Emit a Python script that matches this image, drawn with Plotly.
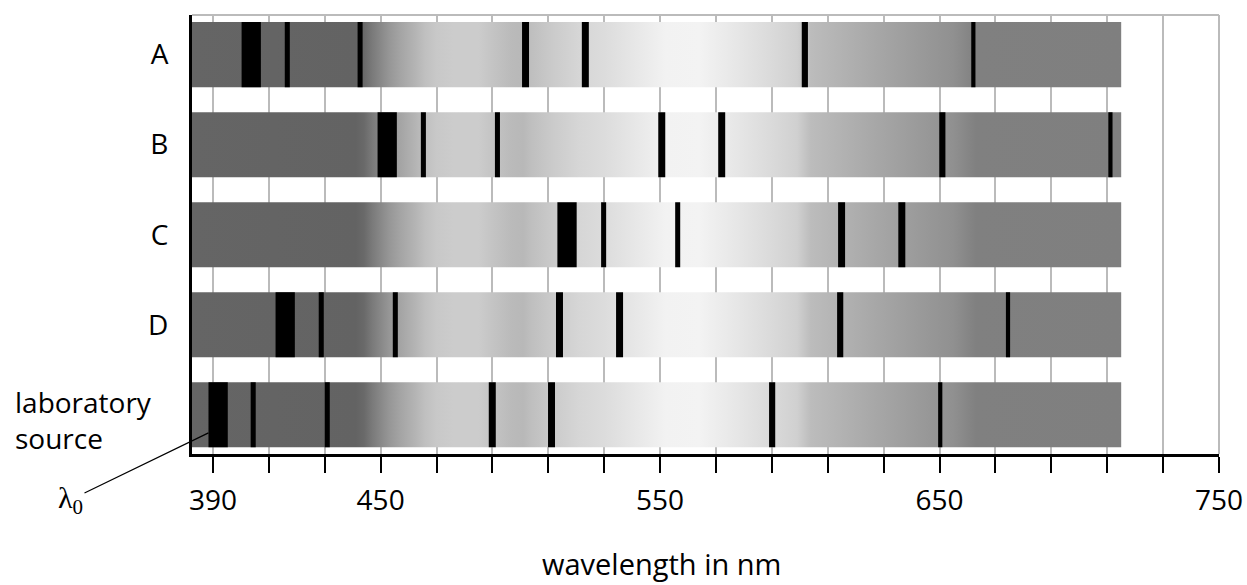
import plotly.graph_objects as go

# ---------------- data ----------------
row_names = ["laboratory source", "D", "C", "B", "A"]
row_pos = [0, 1, 2, 3, 4]

spectrum_start = 382.5
spectrum_end = 715.0

# absorption line centres (nm)
lines_lab = [391.85, 404.4, 430.9, 489.95, 511.15, 590.1, 650.25]
lines_D = [415.85, 428.75, 455.25, 514.0, 535.5, 614.45, 674.5]
lines_C = [516.7, 529.8, 556.3, 614.95, 636.5]
lines_B = [452.35, 465.3, 491.8, 550.6, 572.05, 651.0, 711.15]
lines_A = [403.7, 416.6, 442.65, 501.85, 523.25, 601.8, 662.1]
line_widths = [6.9, 1.8, 1.8, 2.5, 2.5, 2.2, 1.5]

# grey level of the spectrum band (nm -> grey 0..255)
grad_nm = [382.5, 441, 444, 447, 450, 453, 457, 462, 466, 470, 476, 485, 490, 497,
           501, 504, 512, 521, 530, 540, 552, 564, 578, 590, 599, 604, 614, 626,
           644, 655, 663, 715]
grad_gray = [101, 99, 105, 122, 136, 150, 164, 179, 192, 200, 204, 204, 196, 186,
             184, 191, 203, 214, 220, 230, 242, 243, 230, 218, 208, 188, 179, 168,
             153, 144, 128, 127]

labelled_ticks = [390, 450, 550, 650, 750]
minor_ticks = [v for v in range(390, 751, 20) if v not in labelled_ticks]

# ---------------- figure ----------------
half_h = 0.361
W, H = 1247, 585
L, R, T, B = 192, 28, 15, 131
pw, ph = W - L - R, H - T - B

def px_x(px):
    return (px - L) / pw

def px_y(py):
    return (H - B - py) / ph

span = spectrum_end - spectrum_start
colorscale = [[(n - spectrum_start) / span, f"rgb({g},{g},{g})"] for n, g in zip(grad_nm, grad_gray)]

fig = go.Figure()

all_lines = [lines_lab, lines_D, lines_C, lines_B, lines_A]
for pos, centres in zip(row_pos, all_lines):
    # spectrum band
    fig.add_trace(go.Scatter(
        x=[spectrum_start, spectrum_end, spectrum_end, spectrum_start, spectrum_start],
        y=[pos - half_h, pos - half_h, pos + half_h, pos + half_h, pos - half_h],
        mode="lines", line=dict(width=0), fill="toself",
        fillgradient=dict(type="horizontal", colorscale=colorscale),
        hoverinfo="skip", showlegend=False))
    # absorption lines
    xs, ys = [], []
    for c, w in zip(centres, line_widths):
        a, b = c - w / 2, c + w / 2
        xs += [a, b, b, a, a, None]
        ys += [pos - half_h, pos - half_h, pos + half_h, pos + half_h, pos - half_h, None]
    fig.add_trace(go.Scatter(x=xs, y=ys, mode="lines", line=dict(width=0),
                             fill="toself", fillcolor="black",
                             hoverinfo="skip", showlegend=False))

font = "Open Sans"
fs = 28

fig.update_layout(
    width=W, height=H,
    margin=dict(l=L, r=R, t=T, b=B, autoexpand=False),
    paper_bgcolor="white", plot_bgcolor="white",
    font=dict(family=font, size=fs, color="black"),
    showlegend=False,
    xaxis=dict(range=[spectrum_start, 750], tickmode="array", tickvals=labelled_ticks,
               ticktext=[str(v) for v in labelled_ticks],
               ticks="outside", ticklen=16, tickwidth=2, tickcolor="black",
               showgrid=True, gridcolor="#bbbbbb", gridwidth=2,
               minor=dict(tickmode="array", tickvals=minor_ticks, ticks="outside",
                          ticklen=16, tickwidth=2, tickcolor="black",
                          showgrid=True, gridcolor="#bbbbbb", gridwidth=2),
               showline=True, linecolor="black", linewidth=3,
               zeroline=False, ticklabelstandoff=3, automargin=False,
               tickfont=dict(family=font, size=fs)),
    yaxis=dict(range=[-0.435, 4.44], tickmode="array", tickvals=row_pos[1:],
               ticktext=row_names[1:], ticks="", showgrid=False,
               showline=True, linecolor="black", linewidth=3, zeroline=False,
               ticklabelstandoff=15, automargin=False,
               tickfont=dict(family=font, size=fs)),
    shapes=[
        dict(type="line", xref="paper", yref="paper", x0=0, x1=1, y0=1, y1=1,
             line=dict(color="#bbbbbb", width=2), layer="below"),
        dict(type="line", xref="paper", yref="paper", x0=1, x1=1, y0=0, y1=1,
             line=dict(color="#bbbbbb", width=2), layer="below"),
    ],
    annotations=[
        dict(text="laboratory<br>source", xref="paper", yref="paper", x=px_x(13), y=px_y(420),
             xanchor="left", yanchor="middle", align="left", showarrow=False,
             font=dict(size=fs)),
        dict(text="wavelength in nm", xref="paper", yref="paper", x=px_x(661), y=px_y(563),
             xanchor="center", yanchor="middle", showarrow=False, font=dict(size=29)),
        dict(text="λ<sub>0</sub>", x=lines_lab[0] - line_widths[0] / 2, y=-0.2,
             xref="x", yref="y", ax=-138, ay=67, showarrow=True, arrowhead=0,
             arrowwidth=1.2, arrowcolor="black",
             font=dict(family="Liberation Serif", size=30)),
    ],
)

fig.write_html("out.html", config={"displayModeBar": False},
               post_script="document.body.style.margin='0';")
